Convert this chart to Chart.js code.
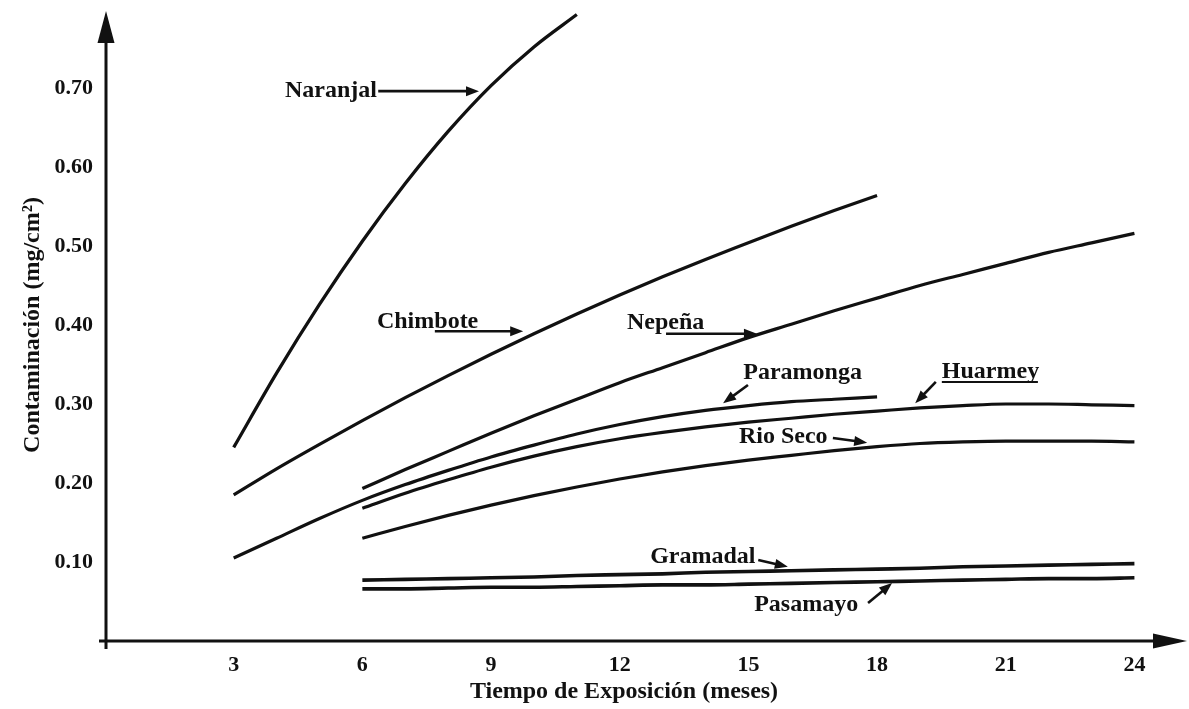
<!DOCTYPE html>
<html>
<head>
<meta charset="utf-8">
<script src="https://cdn.jsdelivr.net/npm/chart.js@4.4.1/dist/chart.umd.min.js"></script>
<style>
  html, body { margin: 0; padding: 0; background: #fff; }
  #wrap { width: 1189px; height: 709px; position: relative; }
</style>
</head>
<body>
<div id="wrap"><canvas id="c"></canvas></div>
<script>
// ---- data ----
const months = [3,4,5,6,7,8,9,10,11,12,13,14,15,16,17,18,19,20,21,22,23,24];
const naranjal  = [0.245,0.339,0.426,0.506,0.579,0.645,0.703,0.752,0.793,null,null,null,null,null,null,null,null,null,null,null,null,null];
const chimbote  = [0.185,0.218,0.249,0.279,0.308,0.336,0.363,0.389,0.414,0.438,0.461,0.483,0.504,0.525,0.545,0.564,null,null,null,null,null,null];
const nepena    = [null,null,null,0.193,0.217,0.240,0.263,0.285,0.306,0.327,0.346,0.365,0.384,0.401,0.418,0.434,0.450,0.464,0.478,0.492,0.504,0.516];
const paramonga = [0.105,0.130,0.155,0.178,0.198,0.216,0.233,0.248,0.262,0.274,0.284,0.292,0.298,0.303,0.306,0.309,null,null,null,null,null,null];
const huarmey   = [null,null,null,0.168,0.187,0.204,0.220,0.234,0.246,0.256,0.264,0.271,0.277,0.282,0.287,0.291,0.295,0.298,0.300,0.300,0.299,0.298];
const rioSeco   = [null,null,null,0.130,0.145,0.159,0.172,0.184,0.195,0.205,0.214,0.222,0.229,0.235,0.241,0.246,0.250,0.252,0.253,0.253,0.253,0.252];
const gramadal  = [null,null,null,0.077,0.078,0.079,0.080,0.081,0.083,0.084,0.085,0.087,0.088,0.089,0.090,0.091,0.092,0.094,0.095,0.096,0.097,0.098];
const pasamayo  = [null,null,null,0.066,0.066,0.067,0.068,0.068,0.069,0.070,0.071,0.071,0.072,0.073,0.074,0.075,0.076,0.077,0.078,0.079,0.079,0.080];

const xTickValues = [3,6,9,12,15,18,21,24];
const yTickValues = [0.1,0.2,0.3,0.4,0.5,0.6,0.7];
const yTickLabels = ['0.10','0.20','0.30','0.40','0.50','0.60','0.70'];

// curve labels and pointer arrows, in data units
const labelTexts  = ['Naranjal','Chimbote','Nepeña','Paramonga','Huarmey','Rio Seco','Gramadal','Pasamayo'];
const labelX      = [6.34, 6.34, 12.17, 14.88, 19.51, 14.78, 12.71, 17.56];
const labelY      = [0.696, 0.404, 0.4025, 0.339, 0.3405, 0.258, 0.106, 0.0456];
const labelAlign  = ['right','left','left','left','left','left','left','right'];
const arrowFromX  = [6.37, 7.69, 13.08, 14.99, 19.37, 16.97, 15.23, 17.79];
const arrowFromY  = [0.696, 0.392, 0.389, 0.324, 0.328, 0.257, 0.1025, 0.048];
const arrowToX    = [8.72, 9.75, 15.20, 14.41, 18.89, 17.77, 15.92, 18.35];
const arrowToY    = [0.696, 0.392, 0.389, 0.301, 0.301, 0.251, 0.094, 0.0734];
const underlines  = [{x1:19.51, x2:21.75, y:0.328}];

const SERIF = '"Liberation Serif", "Times New Roman", serif';

function pts(arr){ return months.map((m,i)=>({x:m, y:arr[i]})); }
function ds(name, arr, w){
  return { label:name, data:pts(arr), borderColor:'#111', borderWidth:w, pointRadius:0,
           cubicInterpolationMode:'monotone', fill:false, spanGaps:false };
}

const decor = {
  id:'decor',
  afterDraw(chart){
    const {ctx, chartArea:a, scales:{x, y}} = chart;
    ctx.save();
    ctx.fillStyle = '#111'; ctx.strokeStyle = '#111';
    // y axis with arrow
    ctx.lineWidth = 3;
    ctx.beginPath(); ctx.moveTo(a.left+1, a.bottom+8); ctx.lineTo(a.left+1, a.top+30); ctx.stroke();
    ctx.beginPath(); ctx.moveTo(a.left+1, a.top+2); ctx.lineTo(a.left+9.5, a.top+34); ctx.lineTo(a.left-7.5, a.top+34); ctx.closePath(); ctx.fill();
    // x axis with arrow
    const tipX = chart.width - 2;
    ctx.beginPath(); ctx.moveTo(a.left-6, a.bottom); ctx.lineTo(tipX-30, a.bottom); ctx.stroke();
    ctx.beginPath(); ctx.moveTo(tipX, a.bottom); ctx.lineTo(tipX-34, a.bottom-7.5); ctx.lineTo(tipX-34, a.bottom+7.5); ctx.closePath(); ctx.fill();

    // labels
    ctx.font = 'bold 24px ' + SERIF;
    ctx.textBaseline = 'middle';
    labelTexts.forEach((t,i)=>{
      ctx.textAlign = labelAlign[i];
      ctx.fillText(t, x.getPixelForValue(labelX[i]), y.getPixelForValue(labelY[i]));
    });
    // underlines
    ctx.lineWidth = 2;
    underlines.forEach(u=>{
      ctx.beginPath();
      ctx.moveTo(x.getPixelForValue(u.x1), y.getPixelForValue(u.y));
      ctx.lineTo(x.getPixelForValue(u.x2), y.getPixelForValue(u.y));
      ctx.stroke();
    });
    // arrows
    arrowFromX.forEach((fx,i)=>{
      const x1 = x.getPixelForValue(fx), y1 = y.getPixelForValue(arrowFromY[i]);
      const x2 = x.getPixelForValue(arrowToX[i]), y2 = y.getPixelForValue(arrowToY[i]);
      const ang = Math.atan2(y2-y1, x2-x1);
      const L = 13, W = 5;
      ctx.lineWidth = 2.6;
      ctx.beginPath(); ctx.moveTo(x1,y1); ctx.lineTo(x2 - Math.cos(ang)*L*0.8, y2 - Math.sin(ang)*L*0.8); ctx.stroke();
      ctx.beginPath();
      ctx.moveTo(x2,y2);
      ctx.lineTo(x2 - Math.cos(ang)*L - Math.sin(ang)*W, y2 - Math.sin(ang)*L + Math.cos(ang)*W);
      ctx.lineTo(x2 - Math.cos(ang)*L + Math.sin(ang)*W, y2 - Math.sin(ang)*L - Math.cos(ang)*W);
      ctx.closePath(); ctx.fill();
    });
    ctx.restore();
  }
};

new Chart(document.getElementById('c'), {
  type:'line',
  data:{
    datasets:[
      ds('Naranjal', naranjal, 3.3),
      ds('Chimbote', chimbote, 3.2),
      ds('Nepeña', nepena, 3.2),
      ds('Paramonga', paramonga, 3.2),
      ds('Huarmey', huarmey, 3.2),
      ds('Rio Seco', rioSeco, 3.2),
      ds('Gramadal', gramadal, 3.6),
      ds('Pasamayo', pasamayo, 3.6)
    ]
  },
  options:{
    responsive:true, maintainAspectRatio:false, animation:false,
    layout:{ padding:{ top:9, right:46, left:0, bottom:0 } },
    plugins:{ legend:{display:false}, tooltip:{enabled:false} },
    scales:{
      x:{
        type:'linear', min:0, max:24.2,
        grid:{display:false, drawTicks:false}, border:{display:false},
        afterBuildTicks(s){ s.ticks = xTickValues.map(v=>({value:v})); },
        afterFit(s){ s.height = 68; s.paddingLeft = 0; s.paddingRight = 0; },
        ticks:{ color:'#111', padding:11, maxRotation:0, autoSkip:false,
                font:{family:SERIF, size:22, weight:'bold'} },
        title:{ display:true, text:'Tiempo de Exposición (meses)', color:'#111',
                font:{family:SERIF, size:24, weight:'bold'}, padding:{top:0, bottom:3} }
      },
      y:{
        type:'linear', min:0, max:0.8,
        grid:{display:false, drawTicks:false}, border:{display:false},
        afterBuildTicks(s){ s.ticks = yTickValues.map(v=>({value:v})); },
        afterFit(s){ s.width = 105; s.paddingTop = 0; s.paddingBottom = 0; },
        ticks:{ color:'#111', padding:12, autoSkip:false,
                font:{family:SERIF, size:22, weight:'bold'},
                callback(v){ const i = yTickValues.findIndex(t=>Math.abs(t-v)<1e-9); return i>=0 ? yTickLabels[i] : ''; } },
        title:{ display:true, text:'Contaminación (mg/cm²)', color:'#111',
                font:{family:SERIF, size:24, weight:'bold'}, padding:{top:18, bottom:0} }
      }
    }
  },
  plugins:[decor]
});
</script>
</body>
</html>
